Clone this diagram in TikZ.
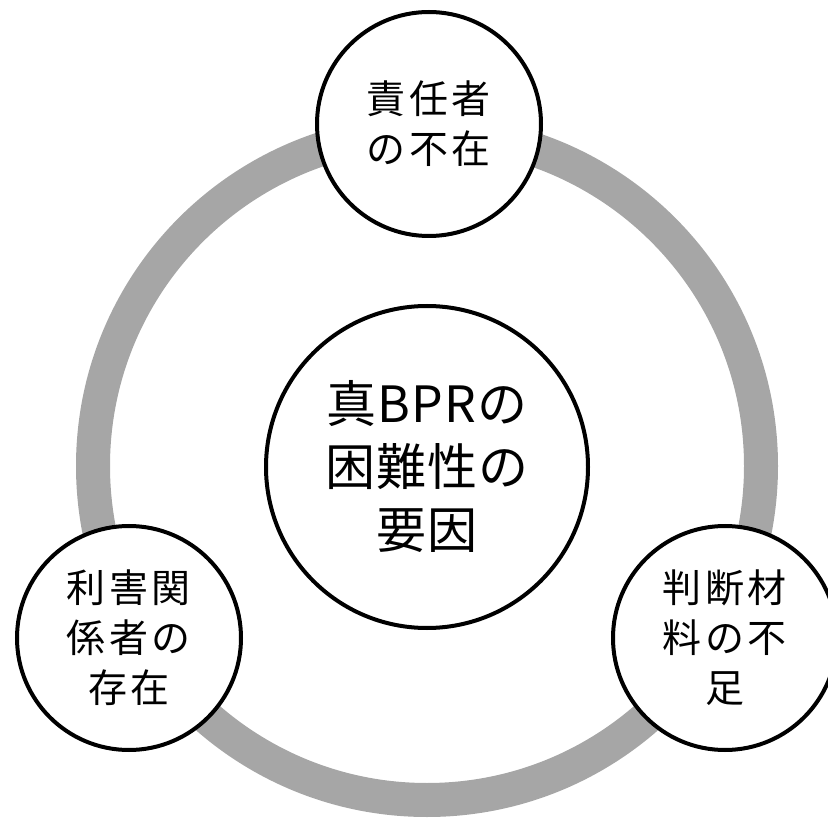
\documentclass[tikz,border=0pt]{standalone}
\usepackage{fontspec}
\newfontfamily\jp[LetterSpace=9]{Noto Sans CJK JP}
\newfontfamily\jpc[LetterSpace=2]{Noto Sans CJK JP}
\definecolor{ringgray}{RGB}{166,166,166}
\begin{document}
\begin{tikzpicture}[x=1pt,y=-1pt,
  sat/.style={circle,draw=black,line width=4pt,fill=white,minimum size=224pt,inner sep=0pt,align=center,font=\jp\fontsize{39}{50}\selectfont},
  hub/.style={circle,draw=black,line width=4pt,fill=white,minimum size=322pt,inner sep=0pt,align=center,font=\jpc\fontsize{50}{63}\selectfont}]
\clip (0,0) rectangle (828,818);
\coordinate (o) at (427,466);
\draw[ringgray,line width=34pt] (o) circle[radius=334pt];
\node[hub] (core) at (427,467) {真BPRの\\困難性の\\要因};
\node[sat] (top) at (429,124) {責任者\\の不在};
\node[sat] (left) at (129,638) {利害関\\係者の\\存在};
\node[sat] (right) at (725,638) {判断材\\料の不\\足};
\end{tikzpicture}
\end{document}
